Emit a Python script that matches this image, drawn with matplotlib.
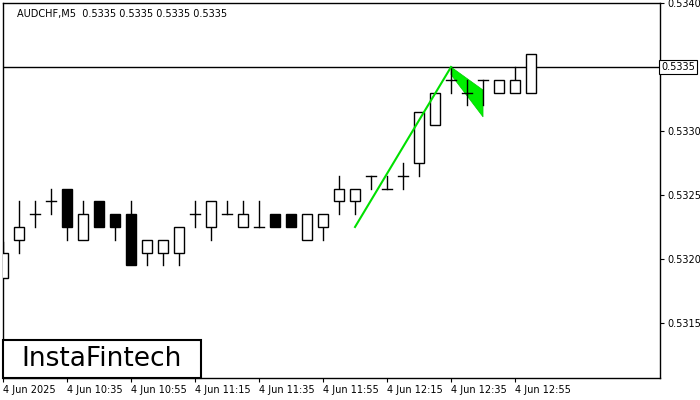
import matplotlib.pyplot as plt
from matplotlib.patches import Rectangle, Polygon

opens = [0.53185, 0.53215, 0.53235, 0.53245, 0.53255, 0.53215, 0.53245, 0.53235, 0.53235, 0.53205,
         0.53205, 0.53205, 0.53235, 0.53225, 0.53235, 0.53225, 0.53225, 0.53235, 0.53235, 0.53215,
         0.53225, 0.53245, 0.53245, 0.53265, 0.53255, 0.53265, 0.53275, 0.53305, 0.5334, 0.5333,
         0.5334, 0.5333, 0.5333, 0.5333]
highs = [0.53213, 0.53245, 0.53245, 0.53255, 0.53255, 0.53245, 0.53245, 0.53235, 0.53245, 0.53215,
         0.53215, 0.53225, 0.53245, 0.53245, 0.53245, 0.53245, 0.53245, 0.53235, 0.53235, 0.53235,
         0.53235, 0.53265, 0.53255, 0.53265, 0.53265, 0.53275, 0.53315, 0.5333, 0.5335, 0.5334,
         0.5334, 0.5334, 0.5335, 0.5336]
lows = [0.53185, 0.53205, 0.53225, 0.53235, 0.53215, 0.53215, 0.53225, 0.53215, 0.53195, 0.53195,
        0.53195, 0.53195, 0.53225, 0.53215, 0.53235, 0.53225, 0.53225, 0.53225, 0.53225, 0.53215,
        0.53215, 0.53235, 0.53235, 0.53255, 0.53255, 0.53255, 0.53265, 0.53305, 0.5333, 0.5332,
        0.5332, 0.5333, 0.5333, 0.5333]
closes = [0.53205, 0.53225, 0.53235, 0.53245, 0.53225, 0.53235, 0.53225, 0.53225, 0.53195, 0.53215,
          0.53215, 0.53225, 0.53235, 0.53245, 0.53235, 0.53235, 0.53225, 0.53225, 0.53225, 0.53235,
          0.53235, 0.53255, 0.53255, 0.53265, 0.53255, 0.53265, 0.53315, 0.5333, 0.5334, 0.5333,
          0.5334, 0.5334, 0.5334, 0.5336]
tick_pos = [0, 4, 8, 12, 16, 20, 24, 28, 32]
tick_labels = ["4 Jun 2025", "4 Jun 10:35", "4 Jun 10:55", "4 Jun 11:15", "4 Jun 11:35",
               "4 Jun 11:55", "4 Jun 12:15", "4 Jun 12:35", "4 Jun 12:55"]
y_ticks = [0.5315, 0.5320, 0.5325, 0.5330, 0.5335, 0.5340]
current = 0.5335
pole = ([22, 28], [0.53225, 0.5335])
flag = [(28, 0.5335), (30, 0.53332), (30, 0.53311), (28, 0.53344)]

fig = plt.figure(figsize=(7, 4), dpi=100)
ax = fig.add_axes([3 / 700, 22 / 400, 657 / 700, 375 / 400])

w = 0.6
for i, (o, h, l, c) in enumerate(zip(opens, highs, lows, closes)):
    top, bot = max(o, c), min(o, c)
    ax.plot([i, i], [top, h], color='black', lw=1, zorder=2)
    ax.plot([i, i], [l, bot], color='black', lw=1, zorder=2)
    if top - bot < 1e-7:
        ax.plot([i - w / 2, i + w / 2], [o, o], color='black', lw=1, zorder=2)
    else:
        fc = 'white' if c > o else 'black'
        ax.add_patch(Rectangle((i - w / 2, bot), w, top - bot, facecolor=fc,
                               edgecolor='black', lw=1, zorder=3))

ax.axhline(current, color='black', lw=1, zorder=1)
ax.plot(pole[0], pole[1], color='#00e000', lw=1.5, zorder=4)
ax.add_patch(Polygon(flag, closed=True, facecolor='#00ee00', edgecolor='#00cc00', lw=0.5, zorder=1.5))

ax.set_xlim(0, 41.06)
ax.set_ylim(0.53107, 0.5340)
ax.yaxis.tick_right()
ax.set_yticks(y_ticks)
ax.set_yticklabels([f"{v:.4f}" if v != current else "" for v in y_ticks], fontsize=7)
ax.set_xticks(tick_pos)
ax.set_xticklabels(tick_labels, fontsize=7, ha='left')
ax.tick_params(direction='out', length=3, pad=2)
for s in ax.spines.values():
    s.set_linewidth(1)

ax.text(0.022, 0.985, "AUDCHF,M5  0.5335 0.5335 0.5335 0.5335", transform=ax.transAxes,
        fontsize=7, va='top', ha='left')
ax.text(1.0015, (current - 0.53107) / (0.5340 - 0.53107), "0.5335", transform=ax.transAxes,
        fontsize=7, va='center', ha='left', zorder=6,
        bbox=dict(facecolor='white', edgecolor='black', boxstyle='square,pad=0.25', lw=0.8))

fig.patches.append(Rectangle((3 / 700, 22 / 400), 198 / 700, 38 / 400, transform=fig.transFigure,
                             facecolor='white', edgecolor='black', lw=1.5, zorder=10))
fig.text(102 / 700, 41 / 400, "InstaFintech", fontsize=19, ha='center', va='center', zorder=11)

fig.savefig("out.png", dpi=100)
